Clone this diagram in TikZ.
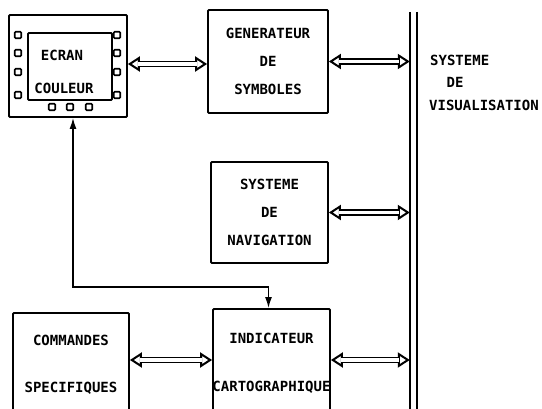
\documentclass[tikz,border=0pt]{standalone}
\usepackage{fontspec}
\setmainfont{DejaVu Sans Mono}
\usetikzlibrary{arrows.meta,calc}
% double-line connector with open heads at both ends
\newcommand\dblconn[2]{%
  \draw[dblhead] #1 -- #2;
  \draw[dblshaft] #1 -- #2;}
\begin{document}
\begin{tikzpicture}[x=1pt,y=-1pt,
  box/.style={draw, line width=1.8pt, rounded corners=1pt, inner sep=0pt},
  lbl/.style={font=\fontsize{14}{28}\selectfont\bfseries, align=center, inner sep=0pt},
  pin/.style={draw, line width=1.7pt, minimum size=6.5pt, inner sep=0pt, rounded corners=1pt},
  dblhead/.style={line width=2pt, {Triangle[open,length=12pt,width=15pt]}-{Triangle[open,length=12pt,width=15pt]}},
  dblshaft/.style={double, double distance=3.2pt, line width=1.8pt, shorten <=10.5pt, shorten >=10.5pt},
  wire/.style={line width=1.5pt, {Latex[length=11pt,width=7pt]}-{Latex[length=11pt,width=7pt]}},
  busline/.style={line width=1.7pt}
]
\useasboundingbox (0,0) rectangle (542,409);
\clip (0,0) rectangle (542,409);

% colour display with its bezel buttons
\node[box, minimum width=118pt, minimum height=102pt] (ecran) at (68,66) {};
\node[box, minimum width=84pt, minimum height=67pt] (screen) at (70,66.5) {};
\foreach \y [count=\i] in {35,53,72,95} {
  \node[pin] (pinL\i) at (18,\y) {};
  \node[pin] (pinR\i) at (117,\y) {};
}
\foreach \x [count=\i] in {52,70,89} {
  \node[pin] (pinB\i) at (\x,107) {};
}
\node[lbl] (ecrantxt) at (62,55) {ECRAN};
\node[lbl] (couleurtxt) at (64,88) {COULEUR};

% functional blocks
\node[box, lbl, minimum width=120pt, minimum height=103pt] (gen) at (268,61.5)
  {GENERATEUR\\DE\\SYMBOLES};
\node[box, lbl, minimum width=117pt, minimum height=101pt] (nav) at (269.5,212.5)
  {SYSTEME\\DE\\NAVIGATION};
\node[box, minimum width=116pt, minimum height=112pt] (cmd) at (71,369) {};
\node[lbl] (cmdtxt1) at (71,340) {COMMANDES};
\node[lbl] (cmdtxt2) at (71,388) {SPECIFIQUES};
\node[box, minimum width=117pt, minimum height=116pt] (ind) at (271.5,367) {};
\node[lbl] (indtxt1) at (271.5,338) {INDICATEUR};
\node[lbl] (indtxt2) at (271.5,387) {CARTOGRAPHIQUE};

% visualisation bus
\node[minimum width=7pt, minimum height=403pt, inner sep=0pt] (bus) at (413.5,213.5) {};
\draw[busline] (bus.north west) -- (bus.south west);
\draw[busline] (bus.north east) -- (bus.south east);
\node[lbl, anchor=west] (vis1) at (430,60) {SYSTEME};
\node[lbl] (vis2) at (455,82) {DE};
\node[lbl, anchor=west] (vis3) at (429,105) {VISUALISATION};

% links
\coordinate (row1) at (0,64);
\coordinate (row3) at (0,360);
\dblconn{(ecran.east |- row1)}{(gen.west |- row1)}
\dblconn{(gen.east)}{(gen.east -| bus.west)}
\dblconn{(nav.east)}{(nav.east -| bus.west)}
\dblconn{(cmd.east |- row3)}{(ind.west |- row3)}
\dblconn{(ind.east |- row3)}{(bus.west |- row3)}

\coordinate (bend) at (73,287);
\draw[wire] (bend |- ecran.south) -- (bend) -| ([xshift=-3pt]ind.north);
\end{tikzpicture}
\end{document}
